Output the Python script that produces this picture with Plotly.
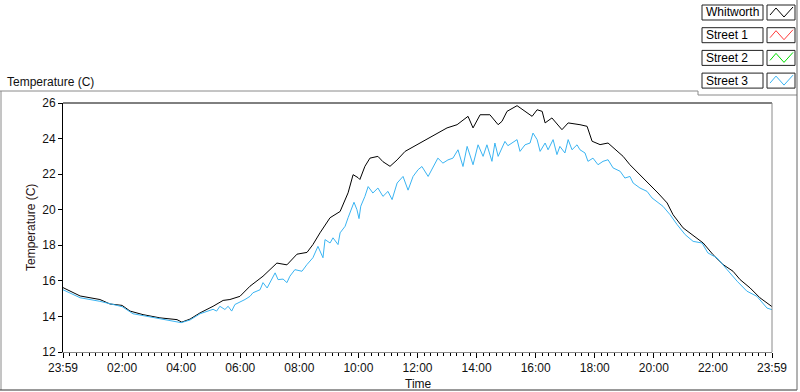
import plotly.graph_objects as go

# ---------------- data (hours since 23:59 start, temperature in C) ----------------
whit_hours = [0.00, 0.58, 1.25, 1.59, 2.00, 2.27, 2.71, 3.28, 3.86, 4.02, 4.30, 4.64, 5.08, 5.42,
              5.65, 5.99, 6.33, 6.77, 7.24, 7.58, 7.92, 8.26, 8.46, 8.70, 9.04, 9.38, 9.65, 9.82,
              9.99, 10.05, 10.22, 10.39, 10.66, 10.83, 11.07, 11.31, 11.58, 11.98, 12.32, 12.66,
              13.00, 13.34, 13.71, 13.88, 14.12, 14.45, 14.73, 14.86, 15.03, 15.37, 15.57, 15.88,
              16.05, 16.22, 16.32, 16.55, 16.89, 17.10, 17.50, 17.74, 17.91, 18.18, 18.45, 18.75,
              18.96, 19.19, 19.53, 19.80, 20.14, 20.45, 20.65, 20.99, 21.46, 21.67, 22.00, 22.34,
              22.68, 22.92, 23.26, 23.59, 24.00]
whit_temp = [15.62, 15.15, 14.95, 14.70, 14.62, 14.30, 14.10, 13.92, 13.82, 13.68, 13.85, 14.20,
             14.57, 14.90, 14.95, 15.13, 15.70, 16.26, 17.00, 16.90, 17.50, 17.60, 18.04, 18.70,
             19.55, 19.90, 20.95, 21.97, 21.80, 21.70, 22.44, 22.90, 23.00, 22.70, 22.44, 22.80,
             23.28, 23.65, 23.94, 24.30, 24.60, 24.78, 25.25, 24.60, 25.34, 25.34, 24.78, 24.97,
             25.53, 25.85, 25.62, 25.25, 25.62, 25.53, 24.88, 25.16, 24.50, 24.88, 24.78, 24.69,
             23.85, 23.66, 23.75, 23.28, 23.00, 22.53, 21.97, 21.50, 20.94, 20.38, 19.72, 18.98,
             18.42, 18.13, 17.48, 16.92, 16.54, 16.07, 15.60, 15.05, 14.55]

s3_hours = [0.00, 0.58, 1.25, 2.00, 2.37, 3.28, 4.00, 4.30, 4.64, 5.08, 5.20, 5.31, 5.48, 5.59,
            5.71, 5.82, 5.99, 6.16, 6.33, 6.43, 6.67, 6.77, 6.91, 7.01, 7.18, 7.28, 7.45, 7.58,
            7.68, 7.85, 8.09, 8.26, 8.36, 8.46, 8.63, 8.80, 8.87, 9.04, 9.14, 9.31, 9.38, 9.55,
            9.65, 9.78, 9.85, 9.95, 10.02, 10.08, 10.22, 10.33, 10.49, 10.66, 10.83, 11.00, 11.14,
            11.31, 11.51, 11.68, 11.85, 12.02, 12.15, 12.36, 12.53, 12.69, 12.86, 13.03, 13.20,
            13.37, 13.54, 13.68, 13.88, 14.05, 14.22, 14.35, 14.52, 14.62, 14.73, 14.86, 14.96,
            15.06, 15.20, 15.37, 15.47, 15.64, 15.81, 15.91, 16.05, 16.15, 16.32, 16.42, 16.59,
            16.72, 16.82, 16.99, 17.10, 17.23, 17.40, 17.50, 17.67, 17.77, 17.94, 18.11, 18.28,
            18.45, 18.62, 18.86, 19.02, 19.19, 19.30, 19.53, 19.77, 19.94, 20.31, 20.55, 20.79,
            21.06, 21.33, 21.63, 21.83, 22.14, 22.48, 22.82, 23.15, 23.49, 23.83, 24.00]
s3_temp = [15.50, 15.05, 14.85, 14.55, 14.15, 13.85, 13.65, 13.80, 14.15, 14.40, 14.30, 14.57,
           14.39, 14.57, 14.30, 14.67, 14.80, 14.95, 15.13, 15.33, 15.50, 15.90, 15.60, 15.90,
           16.45, 16.07, 16.10, 15.90, 16.26, 16.63, 16.54, 16.92, 17.10, 17.30, 17.94, 17.30,
           18.32, 18.13, 18.42, 18.04, 18.70, 19.07, 19.55, 20.20, 20.42, 20.00, 19.50, 20.20,
           20.75, 21.30, 20.94, 21.22, 20.75, 21.03, 20.57, 21.50, 21.87, 21.10, 21.87, 22.25,
           22.43, 21.87, 22.43, 22.90, 22.62, 22.80, 22.90, 23.37, 22.43, 23.56, 22.53, 23.65,
           23.00, 23.65, 22.72, 23.75, 23.00, 23.47, 23.84, 23.60, 23.75, 23.94, 23.28, 23.65,
           23.75, 24.31, 23.94, 23.28, 23.75, 23.37, 23.94, 23.10, 23.56, 23.19, 23.94, 23.37,
           23.65, 23.37, 23.19, 22.72, 22.90, 22.53, 22.72, 22.81, 22.35, 22.16, 21.78, 21.87,
           21.50, 21.22, 21.03, 20.66, 20.19, 19.72, 19.16, 18.60, 18.22, 18.13, 17.57, 17.29,
           16.63, 15.98, 15.42, 15.13, 14.47, 14.38]

tick_hours = [0, 2, 4, 6, 8, 10, 12, 14, 16, 18, 20, 22, 24]
tick_labels = ["23:59", "02:00", "04:00", "06:00", "08:00", "10:00", "12:00",
               "14:00", "16:00", "18:00", "20:00", "22:00", "23:59"]

legend_names = ["Whitworth", "Street 1", "Street 2", "Street 3"]
legend_colors = ["#000000", "#ff3b3b", "#00dd00", "#3ab4f2"]

# ---------------- layout geometry (pixels) ----------------
W, H = 800, 392
L, R, T, B = 63, 772, 103, 352


def fx(x):
    return (x - L) / (R - L)


def fy(y):
    return (B - y) / (B - T)


FONT = "Liberation Sans"

fig = go.Figure()
fig.add_trace(go.Scatter(x=whit_hours, y=whit_temp, mode="lines",
                         line=dict(color=legend_colors[0], width=1),
                         showlegend=False, hoverinfo="skip"))
fig.add_trace(go.Scatter(x=s3_hours, y=s3_temp, mode="lines",
                         line=dict(color=legend_colors[3], width=1),
                         showlegend=False, hoverinfo="skip"))

shapes = []
annotations = []


def line(x0, y0, x1, y1, color, width=1):
    shapes.append(dict(type="line", xref="paper", yref="paper",
                       x0=fx(x0), y0=fy(y0), x1=fx(x1), y1=fy(y1),
                       line=dict(color=color, width=width), layer="above"))


# outer frame
line(0, 91, 698, 91, "#8a8a8a")
line(698, 91, 698, 95, "#8a8a8a")
line(698, 95, 797, 95, "#8a8a8a")
line(1, 91, 1, 390, "#8a8a8a")
line(0, 390, 797, 390, "#333333")
line(797, 0, 797, 390, "#666666")
# plot area borders
line(63, 103, 772, 103, "#000000")
line(772, 103, 772, 352, "#8a8a8a")

# legend
for i, (name, col) in enumerate(zip(legend_names, legend_colors)):
    y0 = 5 + i * 22.7
    y1 = y0 + 15
    shapes.append(dict(type="rect", xref="paper", yref="paper",
                       x0=fx(702), x1=fx(763), y0=fy(y1), y1=fy(y0),
                       line=dict(color="#222222", width=1), fillcolor="white", layer="above"))
    shapes.append(dict(type="rect", xref="paper", yref="paper",
                       x0=fx(767), x1=fx(795), y0=fy(y1), y1=fy(y0),
                       line=dict(color="#222222", width=1), fillcolor="white", layer="above"))
    pts = [(770, y0 + 10), (776, y0 + 3), (784, y0 + 12), (793, y0 + 2)]
    path = "M " + " L ".join(f"{fx(px)},{fy(py)}" for px, py in pts)
    shapes.append(dict(type="path", xref="paper", yref="paper", path=path,
                       line=dict(color=col, width=1), layer="above"))
    annotations.append(dict(text=name, xref="paper", yref="paper",
                            x=fx(704), y=fy((y0 + y1) / 2), xanchor="left", yanchor="middle",
                            showarrow=False, font=dict(family=FONT, size=12, color="#000000")))

# titles
annotations.append(dict(text="Temperature (C)", xref="paper", yref="paper",
                        x=fx(5), y=fy(82), xanchor="left", yanchor="middle",
                        showarrow=False, font=dict(family=FONT, size=12, color="#111111")))
annotations.append(dict(text="Temperature (C)", xref="paper", yref="paper",
                        x=fx(31), y=fy(228), xanchor="center", yanchor="middle", textangle=-90,
                        showarrow=False, font=dict(family=FONT, size=12, color="#2a1515")))
annotations.append(dict(text="Time", xref="paper", yref="paper",
                        x=fx(418), y=fy(384), xanchor="center", yanchor="middle",
                        showarrow=False, font=dict(family=FONT, size=12, color="#111111")))

fig.update_layout(
    width=W, height=H,
    margin=dict(l=L, r=W - R, t=T, b=H - B),
    paper_bgcolor="white", plot_bgcolor="white",
    font=dict(family=FONT, size=12, color="#111111"),
    shapes=shapes, annotations=annotations,
    showlegend=False,
    xaxis=dict(range=[0, 24], tickmode="array", tickvals=tick_hours, ticktext=tick_labels,
               ticks="outside", ticklen=5, tickcolor="#000000", tickwidth=1,
               showline=True, linecolor="#8a8a8a", linewidth=1,
               showgrid=False, zeroline=False,
               minor=dict(tickmode="linear", tick0=0, dtick=2 / 9, ticks="outside",
                          ticklen=3, tickcolor="#000000", showgrid=False)),
    yaxis=dict(range=[12, 26], tickmode="linear", tick0=12, dtick=2,
               ticks="outside", ticklen=4, tickcolor="#000000",
               showline=True, linecolor="#000000", linewidth=1,
               showgrid=False, zeroline=False),
)

fig.write_html("out.html", config={"displayModeBar": False},
               post_script="document.body.style.margin='0';document.body.style.overflow='hidden';")
